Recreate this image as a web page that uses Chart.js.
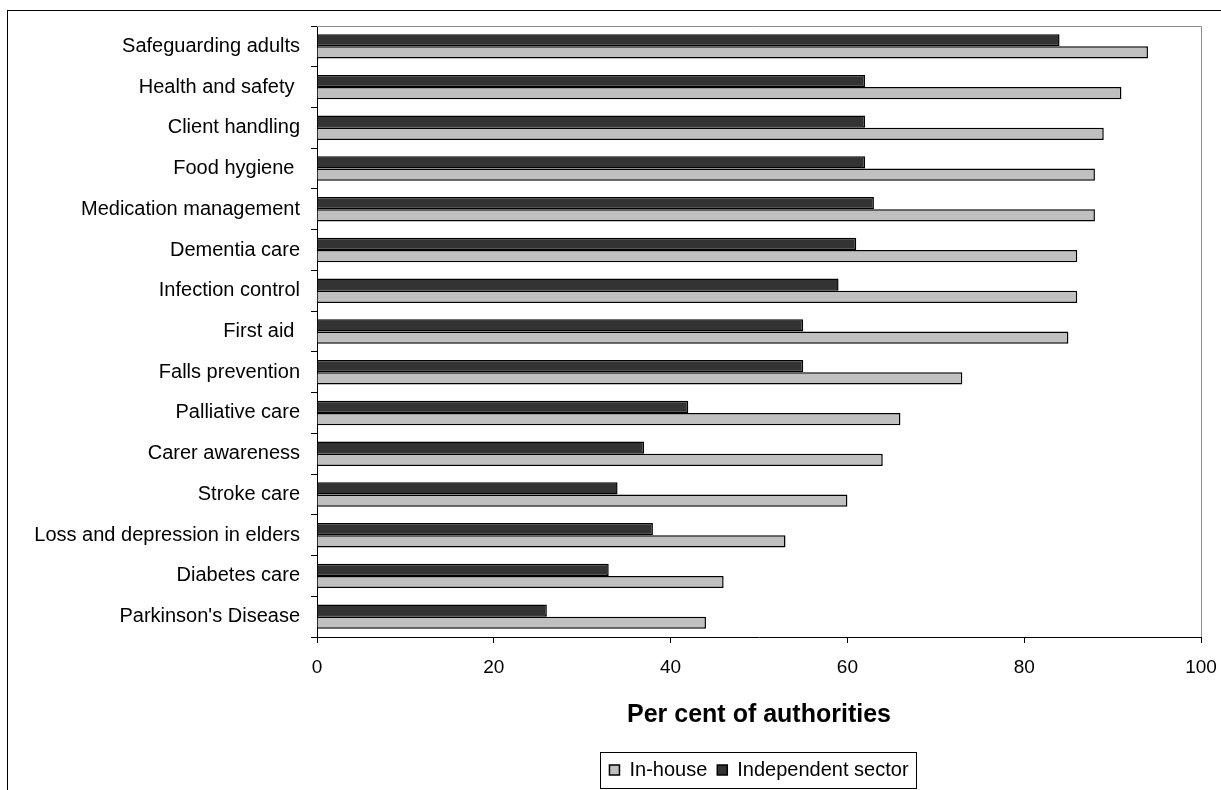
<!DOCTYPE html>
<html>
<head>
<meta charset="utf-8">
<title>Training provided by authorities</title>
<script src="https://cdn.jsdelivr.net/npm/chart.js@4/dist/chart.umd.min.js"></script>
<style>
  html, body { margin: 0; padding: 0; background: #ffffff; }
  #wrap { width: 1221px; height: 790px; position: relative; }
</style>
</head>
<body>
<div id="wrap"><canvas id="chart" width="1221" height="790"></canvas></div>
<script>
// Training areas, listed top to bottom
const categories = [
  "Safeguarding adults",
  "Health and safety ",
  "Client handling",
  "Food hygiene ",
  "Medication management",
  "Dementia care",
  "Infection control",
  "First aid ",
  "Falls prevention",
  "Palliative care",
  "Carer awareness",
  "Stroke care",
  "Loss and depression in elders",
  "Diabetes care",
  "Parkinson's Disease"
];

// Per cent of authorities
const inHouse = [94, 91, 89, 88, 88, 86, 86, 85, 73, 66, 64, 60, 53, 46, 44];
const independentSector = [84, 62, 62, 62, 63, 61, 59, 55, 55, 42, 37, 34, 38, 33, 26];

const xTicks = [0, 20, 40, 60, 80, 100];

const FONT = "'Liberation Sans', Arial, Helvetica, sans-serif";
Chart.defaults.font.family = FONT;
Chart.defaults.color = '#000000';

// Frames: outer page border, grey plot border, box round the legend
const framePlugin = {
  id: 'frames',
  afterDraw(chart) {
    const ctx = chart.ctx;
    const a = chart.chartArea;
    ctx.save();
    // outer border (runs off the right and bottom edges)
    ctx.strokeStyle = '#000000';
    ctx.lineWidth = 1;
    ctx.strokeRect(7.5, 10.5, 1400, 1000);
    // plot area top and right edges
    ctx.strokeStyle = '#8c8c8c';
    ctx.beginPath();
    ctx.moveTo(a.left, Math.round(a.top) + 0.5);
    ctx.lineTo(Math.round(a.right) + 0.5, Math.round(a.top) + 0.5);
    ctx.lineTo(Math.round(a.right) + 0.5, a.bottom);
    ctx.stroke();
    // legend box
    const lg = chart.legend;
    if (lg && lg.legendHitBoxes && lg.legendHitBoxes.length) {
      const hb = lg.legendHitBoxes;
      let l = Infinity, r = -Infinity, cy = 0;
      hb.forEach(h => { l = Math.min(l, h.left); r = Math.max(r, h.left + h.width); cy = h.top + h.height / 2; });
      ctx.strokeStyle = '#000000';
      ctx.strokeRect(Math.round(l - 9) + 0.5, Math.round(cy - 18) + 0.5, Math.round(r - l + 17), 36);
    }
    ctx.restore();
  }
};

new Chart(document.getElementById('chart'), {
  type: 'bar',
  data: {
    labels: categories,
    datasets: [
      {
        label: 'Independent sector',
        data: independentSector,
        backgroundColor: '#333333',
        borderColor: '#000000',
        borderWidth: 1.5,
        categoryPercentage: 0.6,
        barPercentage: 1.0
      },
      {
        label: 'In-house',
        data: inHouse,
        backgroundColor: '#c0c0c0',
        borderColor: '#000000',
        borderWidth: 1.5,
        categoryPercentage: 0.6,
        barPercentage: 1.0
      }
    ]
  },
  options: {
    indexAxis: 'y',
    responsive: false,
    animation: false,
    devicePixelRatio: 1,
    layout: { padding: { top: 26, right: 20, left: 0, bottom: 0 } },
    plugins: {
      legend: {
        display: true,
        position: 'bottom',
        fullSize: false,
        reverse: true,
        labels: {
          boxWidth: 10,
          boxHeight: 10,
          padding: 10,
          font: { size: 20, family: FONT },
          color: '#000000'
        }
      },
      tooltip: { enabled: false }
    },
    scales: {
      x: {
        min: 0,
        max: 100,
        afterBuildTicks(scale) {
          scale.ticks = xTicks.map(v => ({ value: v }));
        },
        afterFit(scale) {
          scale.height = 113;
          scale.paddingLeft = 0;
          scale.paddingRight = 0;
        },
        border: { display: true, color: '#000000', width: 1 },
        grid: {
          drawOnChartArea: false,
          drawTicks: true,
          tickLength: 6,
          color: '#000000'
        },
        ticks: {
          padding: 13,
          font: { size: 19, family: FONT },
          color: '#000000'
        },
        title: {
          display: true,
          text: 'Per cent of authorities',
          font: { size: 25, weight: 'bold', family: FONT },
          color: '#000000',
          padding: { top: 0, bottom: 20 }
        }
      },
      y: {
        afterFit(scale) { scale.width = 317; },
        border: { display: true, color: '#000000', width: 1 },
        grid: {
          offset: true,
          drawOnChartArea: false,
          drawTicks: true,
          tickLength: 6,
          color: '#000000'
        },
        ticks: {
          padding: 11,
          font: { size: 20, family: FONT },
          color: '#000000',
          autoSkip: false
        }
      }
    }
  },
  plugins: [framePlugin]
});
</script>
</body>
</html>
